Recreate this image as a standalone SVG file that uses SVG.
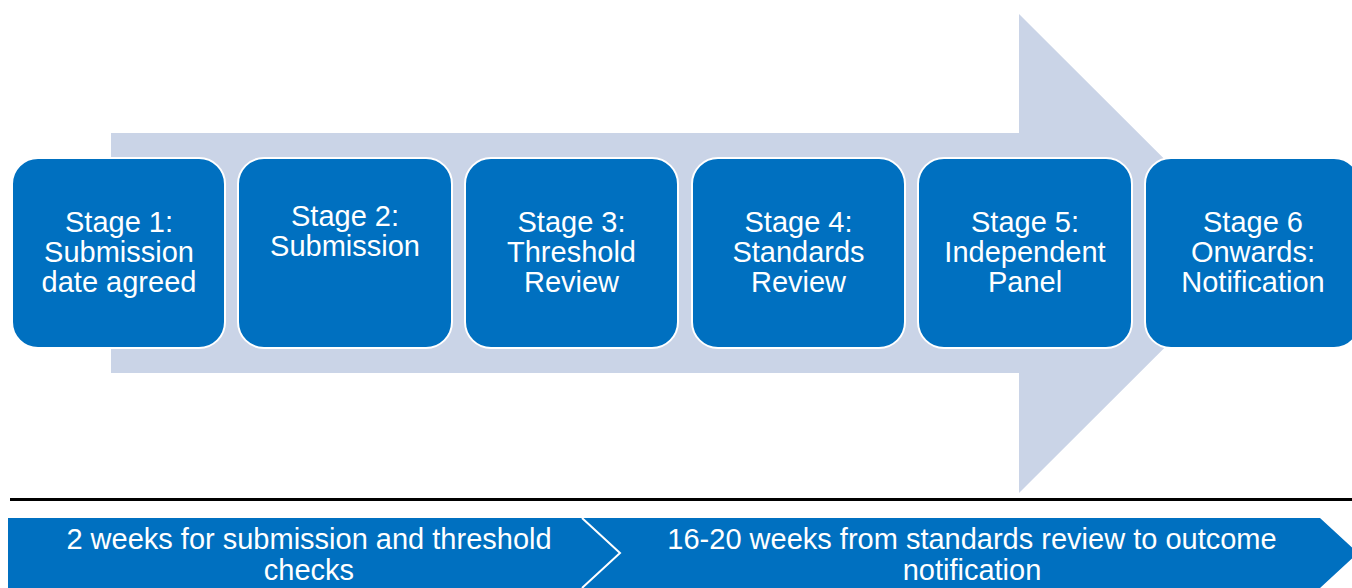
<svg xmlns="http://www.w3.org/2000/svg" width="1352" height="588" viewBox="0 0 1352 588">
  <style>
    .stage rect { fill: #0070C0; stroke: #FFFFFF; stroke-width: 2; }
    .stage text { fill: #FFFFFF; font-family: "Liberation Sans", Arial, sans-serif; font-size: 29px; text-anchor: middle; }
    .band path.fill { fill: #0070C0; }
    .band text { fill: #FFFFFF; font-family: "Liberation Sans", Arial, sans-serif; font-size: 29px; text-anchor: middle; }
    .sep { fill: none; stroke: #FFFFFF; stroke-width: 2; }
  </style>
  <rect width="1352" height="588" fill="#FFFFFF"/>

  <!-- background process arrow -->
  <g id="connectors">
    <path d="M111 133 H1019 V14 L1259 253.5 L1019 493 V373 H111 Z" fill="#CAD4E7"/>
  </g>

  <!-- stage boxes -->
  <g id="stage1" class="stage">
    <rect x="12" y="158" width="213" height="190" rx="26"/>
    <text x="119" y="232">Stage 1:</text>
    <text x="119" y="262">Submission</text>
    <text x="119" y="292">date agreed</text>
  </g>
  <g id="stage2" class="stage">
    <rect x="238" y="158" width="214" height="190" rx="26"/>
    <text x="345" y="226">Stage 2:</text>
    <text x="345" y="256">Submission</text>
  </g>
  <g id="stage3" class="stage">
    <rect x="465" y="158" width="213" height="190" rx="26"/>
    <text x="571.5" y="232">Stage 3:</text>
    <text x="571.5" y="262">Threshold</text>
    <text x="571.5" y="292">Review</text>
  </g>
  <g id="stage4" class="stage">
    <rect x="692" y="158" width="213" height="190" rx="26"/>
    <text x="798.5" y="232">Stage 4:</text>
    <text x="798.5" y="262">Standards</text>
    <text x="798.5" y="292">Review</text>
  </g>
  <g id="stage5" class="stage">
    <rect x="918" y="158" width="214" height="190" rx="26"/>
    <text x="1025" y="232">Stage 5:</text>
    <text x="1025" y="262">Independent</text>
    <text x="1025" y="292">Panel</text>
  </g>
  <g id="stage6" class="stage">
    <rect x="1145" y="158" width="215" height="190" rx="26"/>
    <text x="1253" y="232">Stage 6</text>
    <text x="1253" y="262">Onwards:</text>
    <text x="1253" y="292">Notification</text>
  </g>

  <!-- divider -->
  <line x1="10" y1="499.5" x2="1352" y2="499.5" stroke="#000000" stroke-width="3"/>

  <!-- timeline bands -->
  <g id="band1" class="band">
    <path class="fill" d="M8 518 H582 L620 553 L582 588 H8 Z"/>
    <text x="309" y="549">2 weeks for submission and threshold</text>
    <text x="309" y="580">checks</text>
  </g>
  <g id="band2" class="band">
    <path class="fill" d="M582 518 H1320 L1358 553 L1320 588 H582 L620 553 Z"/>
    <text x="972" y="549">16-20 weeks from standards review to outcome</text>
    <text x="972" y="580">notification</text>
  </g>
  <path class="sep" d="M582 518 L620 553 L582 588"/>
</svg>
